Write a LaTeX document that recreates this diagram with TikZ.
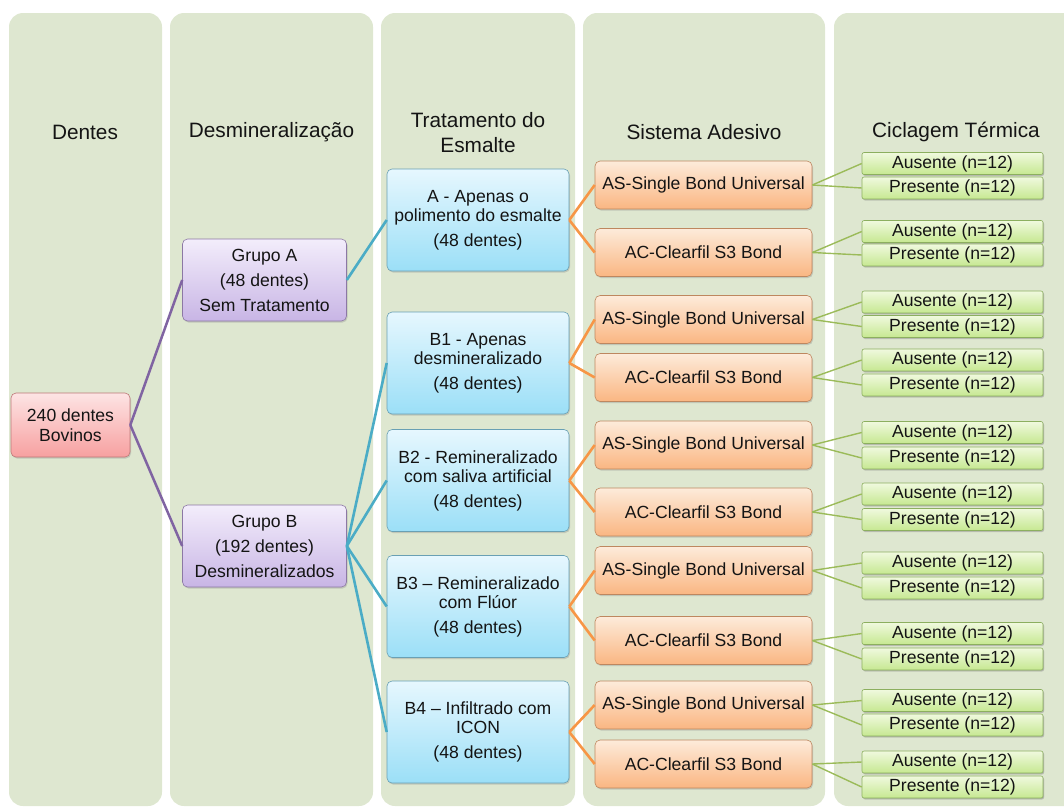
\documentclass[tikz,border=0pt]{standalone}
\usepackage{fontspec}
\setmainfont{Liberation Sans}
\usetikzlibrary{shadows}
\definecolor{panel}{RGB}{222,231,208}
\definecolor{txt}{RGB}{20,20,20}
\definecolor{pinkT}{RGB}{253,228,228}\definecolor{pinkB}{RGB}{247,160,160}\definecolor{pinkD}{RGB}{190,120,120}
\definecolor{purT}{RGB}{243,237,251}\definecolor{purB}{RGB}{200,181,229}\definecolor{purD}{RGB}{140,120,165}
\definecolor{bluT}{RGB}{230,247,254}\definecolor{bluB}{RGB}{155,223,247}\definecolor{bluD}{RGB}{105,160,180}
\definecolor{oraT}{RGB}{253,235,218}\definecolor{oraB}{RGB}{250,182,130}\definecolor{oraD}{RGB}{190,135,95}
\definecolor{grnT}{RGB}{240,249,222}\definecolor{grnB}{RGB}{198,232,145}\definecolor{grnD}{RGB}{140,175,95}
\definecolor{lpur}{RGB}{128,100,162}
\definecolor{lblu}{RGB}{75,172,198}
\definecolor{lora}{RGB}{247,150,70}
\definecolor{lgrn}{RGB}{155,187,89}
\begin{document}
\begin{tikzpicture}[x=1pt,y=-1pt,
  base/.style={rounded corners=5pt, inner sep=0pt, align=center, text=txt, line width=0.6pt,
    font=\fontsize{17.6}{20}\selectfont,
    drop shadow={shadow xshift=1pt, shadow yshift=-1.5pt, opacity=0.3}},
  pinkbox/.style={base, draw=pinkD, top color=pinkT, bottom color=pinkB},
  purbox/.style={base, draw=purD, top color=purT, bottom color=purB, minimum width=164pt, minimum height=82pt},
  blubox/.style={base, draw=bluD, top color=bluT, bottom color=bluB, minimum width=182pt, minimum height=102pt,
    font=\fontsize{17.6}{19}\selectfont},
  orabox/.style={base, draw=oraD, top color=oraT, bottom color=oraB, minimum width=217pt, minimum height=48pt},
  grnbox/.style={base, rounded corners=2pt, draw=grnD, top color=grnT, bottom color=grnB, minimum width=181pt, minimum height=22pt,
    drop shadow={shadow xshift=1pt, shadow yshift=-1pt, opacity=0.25}},
  hdr/.style={text=txt, align=center, font=\fontsize{20.8}{25}\selectfont},
  pline/.style={draw=lpur, line width=2.5pt},
  bline/.style={draw=lblu, line width=2.6pt},
  oline/.style={draw=lora, line width=2.6pt},
  gline/.style={draw=lgrn, line width=1.4pt}]
\useasboundingbox (0,0) rectangle (1064,807);
\clip (0,0) rectangle (1064,807);
% panels
\fill[panel, rounded corners=14pt] (9,13) rectangle (162,806);
\fill[panel, rounded corners=14pt] (170,13) rectangle (373,806);
\fill[panel, rounded corners=14pt] (381,13) rectangle (575,806);
\fill[panel, rounded corners=14pt] (583,13) rectangle (825,806);
\fill[panel, rounded corners=14pt] (834,13) rectangle (1080,806);
% headers
\node[hdr] (h1) at (85,132) {Dentes};
\node[hdr] (h2) at (271.5,132) {Desmineralização};
\node[hdr] (h3) at (478,133) {Tratamento do\\Esmalte};
\node[hdr] (h4) at (704,132) {Sistema Adesivo};
\node[hdr] (h5) at (956,132) {Ciclagem Térmica};
% root and groups
\node[pinkbox, minimum width=119pt, minimum height=64pt] (root) at (70.5,425) {240 dentes\\Bovinos};
\node[purbox] (gA) at (264.5,280) {Grupo A\\[5pt](48 dentes)\\[5pt]Sem Tratamento};
\node[purbox] (gB) at (264.5,546) {Grupo B\\[5pt](192 dentes)\\[5pt]Desmineralizados};
% treatments
\node[blubox] (tA) at (478,220) {A - Apenas o\\polimento do esmalte\\[6pt](48 dentes)};
\node[blubox] (tB1) at (478,363) {B1 - Apenas\\desmineralizado\\[6pt](48 dentes)};
\node[blubox] (tB2) at (478,480.5) {B2 - Remineralizado\\com saliva artificial\\[6pt](48 dentes)};
\node[blubox] (tB3) at (478,606.5) {B3 – Remineralizado\\com Flúor\\[6pt](48 dentes)};
\node[blubox] (tB4) at (478,732) {B4 – Infiltrado com\\ICON\\[6pt](48 dentes)};
% adhesives
\foreach \i/\y/\t in {1/185/{AS-Single Bond Universal},2/252.5/{AC-Clearfil S3 Bond},
  3/319.5/{AS-Single Bond Universal},4/377.5/{AC-Clearfil S3 Bond},
  5/445/{AS-Single Bond Universal},6/512/{AC-Clearfil S3 Bond},
  7/570.5/{AS-Single Bond Universal},8/640.5/{AC-Clearfil S3 Bond},
  9/705/{AS-Single Bond Universal},10/764/{AC-Clearfil S3 Bond}}
  {\node[orabox] (ad\i) at (703.5,\y) {\t};}
% leaves
\foreach \i/\ya/\yb in {1/163.5/188,2/231.5/255,3/302/326.5,4/360/385,5/432.5/458,
  6/494/519.5,7/563/588,8/633.5/659,9/700.5/725,10/762/787}
  {\node[grnbox] (la\i) at (952.5,\ya) {Ausente (n=12)};
   \node[grnbox] (lp\i) at (952.5,\yb) {Presente (n=12)};
   \draw[gline] (ad\i.east) -- (la\i.west);
   \draw[gline] (ad\i.east) -- (lp\i.west);}
% connectors
\draw[pline] (root.east) -- (gA.west);
\draw[pline] (root.east) -- (gB.west);
\draw[bline] (gA.east) -- (tA.west);
\foreach \t in {tB1,tB2,tB3,tB4} {\draw[bline] (gB.east) -- (\t.west);}
\foreach \t/\a/\b in {tA/1/2,tB1/3/4,tB2/5/6,tB3/7/8,tB4/9/10}
  {\draw[oline] (\t.east) -- (ad\a.west);
   \draw[oline] (\t.east) -- (ad\b.west);}
\end{tikzpicture}
\end{document}
